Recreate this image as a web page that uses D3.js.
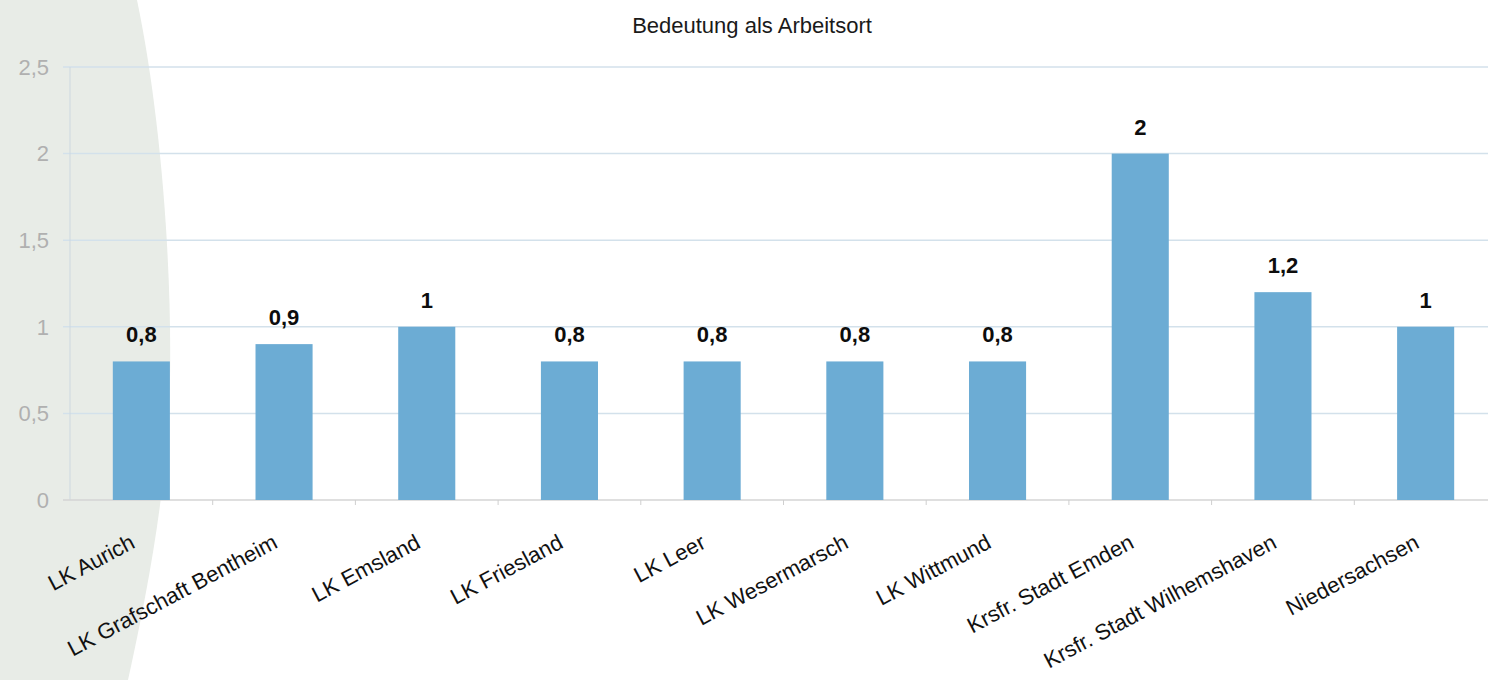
<!DOCTYPE html>
<meta charset="utf-8">
<style>
html, body { margin: 0; padding: 0; background: #fff; }
svg { display: block; font-family: "Liberation Sans", Arial, sans-serif; }
.grid line { stroke: #d3e1eb; stroke-width: 1.5; }
.ytick { fill: #b0b0b0; font-size: 22px; }
.xlab { fill: #111; font-size: 22px; }
.val { fill: #0d0d0d; font-size: 22px; font-weight: bold; }
.bar { fill: #6cacd4; }
</style>
<div id="container"></div>
<script src="https://d3js.org/d3.v7.min.js"></script>
<script>

// chart data
var categories = ['LK Aurich', 'LK Grafschaft Bentheim', 'LK Emsland', 'LK Friesland', 'LK Leer',
  'LK Wesermarsch', 'LK Wittmund', 'Krsfr. Stadt Emden', 'Krsfr. Stadt Wilhemshaven', 'Niedersachsen'];
var values = [0.8, 0.9, 1, 0.8, 0.8, 0.8, 0.8, 2, 1.2, 1];
var yTicks = [0, 0.5, 1, 1.5, 2, 2.5];
var title = 'Bedeutung als Arbeitsort';

var width = 1488, height = 680;
var margin = {top: 67, left: 70, bottom: 180, right: -9};

var de = d3.formatLocale({decimal: ',', thousands: '.', grouping: [3], currency: ['', ' €']});
var fmt = de.format('~g');

var svg = d3.select('#container').append('svg')
    .attr('width', width)
    .attr('height', height);

// light curved background panel on the left
svg.append('path')
    .attr('d', 'M0,0 L137,0 C160,110 172,260 170,380 C168,480 150,580 128,680 L0,680 Z')
    .attr('fill', '#e8ece7');

var x = d3.scaleBand()
    .domain(categories)
    .range([margin.left, width - margin.right])
    .paddingInner(0.6)
    .paddingOuter(0.3);

var y = d3.scaleLinear()
    .domain([0, 2.5])
    .range([height - margin.bottom, margin.top]);

// gridlines
svg.append('g').attr('class', 'grid')
  .selectAll('line')
    .data(yTicks.filter(function(d) { return d > 0; }))
  .enter().append('line')
    .attr('x1', margin.left - 7)
    .attr('x2', width)
    .attr('y1', function(d) { return y(d); })
    .attr('y2', function(d) { return y(d); });

// y axis line
svg.append('line')
    .attr('x1', margin.left).attr('x2', margin.left)
    .attr('y1', y(2.5)).attr('y2', y(0))
    .attr('stroke', '#cdd8e0').attr('stroke-width', 1);

// zero line
svg.append('line')
    .attr('x1', margin.left - 7).attr('x2', width)
    .attr('y1', y(0)).attr('y2', y(0))
    .attr('stroke', '#d4d4d4').attr('stroke-width', 1.5);

// small ticks between categories
var step = x.step(), gap = (step - x.bandwidth()) / 2;
svg.append('g')
  .selectAll('line')
    .data(categories.slice(1))
  .enter().append('line')
    .attr('x1', function(d) { return x(d) - gap; })
    .attr('x2', function(d) { return x(d) - gap; })
    .attr('y1', y(0))
    .attr('y2', y(0) + 5)
    .attr('stroke', '#cfcfcf');

// y tick labels
svg.append('g')
  .selectAll('text')
    .data(yTicks)
  .enter().append('text')
    .attr('class', 'ytick')
    .attr('x', margin.left - 21)
    .attr('y', function(d) { return y(d); })
    .attr('dy', '0.35em')
    .attr('text-anchor', 'end')
    .text(function(d) { return fmt(d); });

// bars
svg.append('g')
  .selectAll('rect')
    .data(values)
  .enter().append('rect')
    .attr('class', 'bar')
    .attr('x', function(d, i) { return x(categories[i]); })
    .attr('width', x.bandwidth())
    .attr('y', function(d) { return y(d); })
    .attr('height', function(d) { return y(0) - y(d); });

// value labels
svg.append('g')
  .selectAll('text')
    .data(values)
  .enter().append('text')
    .attr('class', 'val')
    .attr('x', function(d, i) { return x(categories[i]) + x.bandwidth() / 2; })
    .attr('y', function(d) { return y(d) - 19; })
    .attr('text-anchor', 'middle')
    .text(function(d) { return fmt(d); });

// category labels, rotated
svg.append('g')
  .selectAll('text')
    .data(categories)
  .enter().append('text')
    .attr('class', 'xlab')
    .attr('text-anchor', 'end')
    .attr('transform', function(d) {
      return 'translate(' + (x(d) + x.bandwidth() / 2 - 5) + ',' + (y(0) + 47) + ') rotate(-28)';
    })
    .text(function(d) { return d; });

// title
svg.append('text')
    .attr('x', 752)
    .attr('y', 33)
    .attr('text-anchor', 'middle')
    .attr('fill', '#1a1a1a')
    .style('font-size', '22px')
    .text(title);

</script>
